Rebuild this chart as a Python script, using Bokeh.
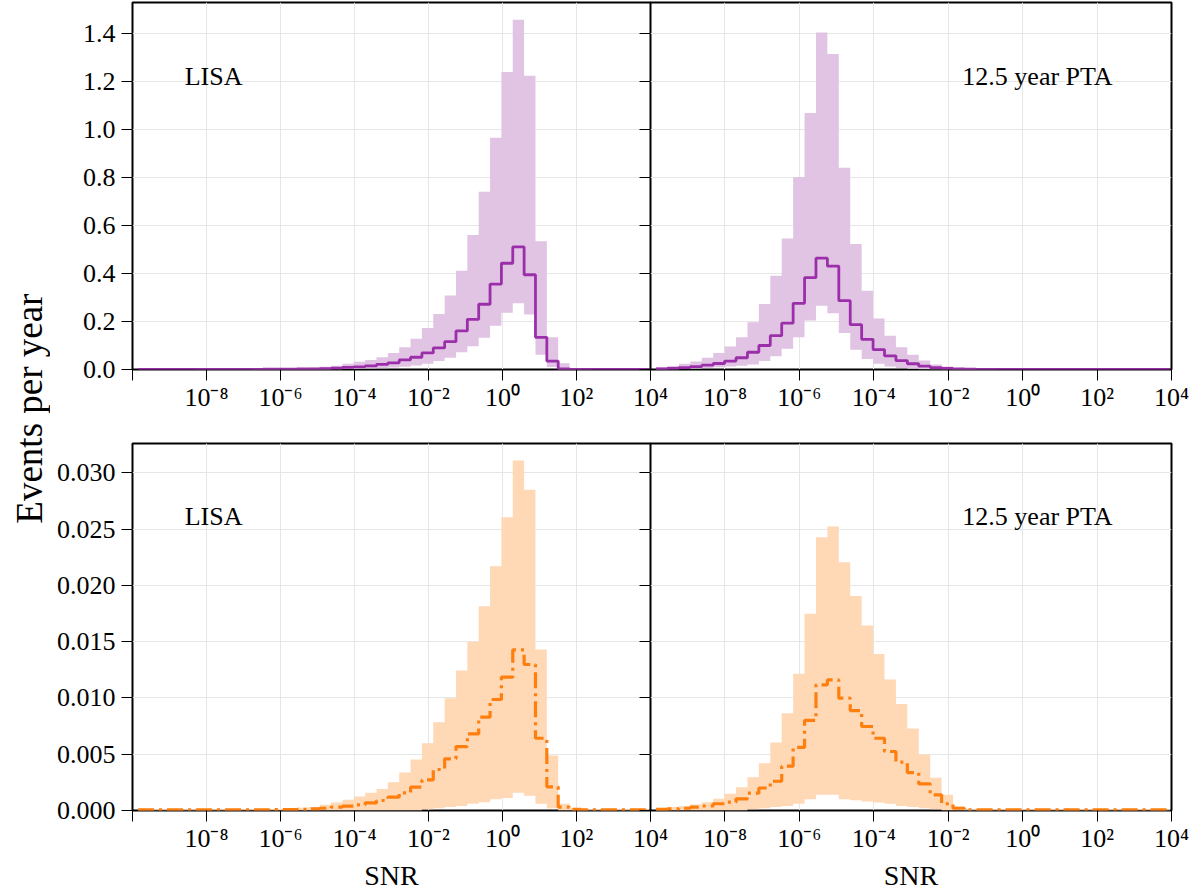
import numpy as np
from math import pi
from bokeh.plotting import figure
from bokeh.layouts import row, column
from bokeh.models import (Range1d, FixedTicker, CustomJSTickFormatter, NumeralTickFormatter,
                          LinearAxis, Label)
from bokeh.core.properties import value
from bokeh.embed import file_html
from bokeh.resources import INLINE

# ---- SNR bins (log-spaced), 45 bins ----
log_edges = np.linspace(-9.85, 3.96, 46)
snr_edges = 10.0 ** log_edges

# ---- GW-driven population (top row): median, 5th and 95th percentile per bin ----
lisa_top_med = [0.0001, 0.0001, 0.0001, 0.0002, 0.0002, 0.0003, 0.0003, 0.0004, 0.0005, 0.0006,
                0.0008, 0.0010, 0.0013, 0.0017, 0.0022,
                0.003, 0.004, 0.006, 0.009, 0.011, 0.015, 0.021, 0.028, 0.040, 0.051,
                0.069, 0.090, 0.116, 0.161, 0.209, 0.272, 0.356, 0.443, 0.511, 0.395,
                0.134, 0.035, 0.003, 0.0005, 0.0001, 0.0001, 0.0001, 0.0, 0.0, 0.0]
lisa_top_lo = [0.0] * 15 + \
              [0.0, 0.0005, 0.001, 0.002, 0.003, 0.004, 0.005, 0.008, 0.011, 0.017,
               0.024, 0.035, 0.049, 0.072, 0.097, 0.132, 0.182, 0.237, 0.276, 0.229,
               0.061, 0.010] + [0.0] * 8
lisa_top_hi = [0.0002, 0.0003, 0.0003, 0.0004, 0.0005, 0.0006, 0.0008, 0.0010, 0.0012, 0.0015,
               0.0019, 0.0024, 0.0030, 0.0038, 0.0050,
               0.007, 0.011, 0.016, 0.024, 0.032, 0.040, 0.051, 0.069, 0.093, 0.128,
               0.173, 0.231, 0.308, 0.412, 0.561, 0.741, 0.966, 1.240, 1.458, 1.225,
               0.535, 0.134, 0.026, 0.004, 0.001, 0.0005, 0.0003, 0.0002, 0.0001, 0.0001]

pta_top_med = [0.003, 0.005, 0.008, 0.012, 0.018, 0.025, 0.035, 0.049, 0.072, 0.100,
               0.141, 0.193, 0.276, 0.383, 0.464,
               0.431, 0.287, 0.187, 0.126, 0.083, 0.057, 0.037, 0.024, 0.014, 0.008,
               0.005, 0.002, 0.001, 0.0005, 0.0003, 0.0002, 0.0001, 0.0001, 0.0001, 0.0001] + [0.0] * 10
pta_top_lo = [0.0, 0.001, 0.002, 0.004, 0.006, 0.009, 0.012, 0.016, 0.021, 0.035,
              0.055, 0.086, 0.134, 0.204, 0.266,
              0.234, 0.152, 0.082, 0.044, 0.024, 0.012, 0.006, 0.003, 0.001, 0.0] + [0.0] * 20
pta_top_hi = [0.010, 0.015, 0.024, 0.033, 0.049, 0.069, 0.096, 0.134, 0.197, 0.273,
              0.391, 0.546, 0.802, 1.069, 1.405,
              1.315, 0.841, 0.523, 0.328, 0.213, 0.141, 0.093, 0.061, 0.037, 0.021,
              0.012, 0.006, 0.003, 0.0015, 0.0008, 0.0005, 0.0003, 0.0002, 0.0002, 0.0001] + [0.0001] * 10

# ---- second population (bottom row) ----
lisa_bot_med = [0.00005] * 11 + [0.00006, 0.00007, 0.00009, 0.0001,
                0.00015, 0.0002, 0.0003, 0.00038, 0.0005, 0.00068, 0.00089, 0.00118, 0.00157, 0.00207,
                0.00272, 0.00364, 0.00459, 0.00568, 0.00680, 0.00829, 0.00986, 0.01184, 0.01427, 0.01297,
                0.00642, 0.00210, 0.00030, 0.00010] + [0.00005] * 6
lisa_bot_lo = [0.0] * 25 + \
              [0.0001, 0.0002, 0.0003, 0.0004, 0.0006, 0.00074, 0.0010, 0.0011, 0.00157, 0.0013,
               0.0006, 0.0002] + [0.0] * 8
lisa_bot_hi = [0.0001] * 11 + [0.00012, 0.00015, 0.0002, 0.00025,
               0.0003, 0.0005, 0.0007, 0.00095, 0.00124, 0.00157, 0.00192, 0.00252, 0.00337, 0.00453,
               0.00598, 0.00784, 0.00998, 0.01243, 0.01500, 0.01815, 0.02170, 0.02605, 0.03110, 0.02850,
               0.01430, 0.00488, 0.00060, 0.00020] + [0.0001] * 6

pta_bot_med = [0.0001, 0.00015, 0.0002, 0.0003, 0.0004, 0.0006, 0.00074, 0.00104, 0.00154, 0.0020,
               0.0026, 0.00394, 0.0056, 0.0080, 0.01116,
               0.0116, 0.00998, 0.00888, 0.00746, 0.00642, 0.00524, 0.00429, 0.00337, 0.00237, 0.00139,
               0.0006, 0.0002] + [0.00005] * 18
pta_bot_lo = [0.0] * 8 + [0.0001, 0.0002, 0.0003, 0.0004, 0.0006, 0.0010, 0.0014,
              0.0014, 0.0010, 0.0009, 0.0008, 0.0007, 0.0006, 0.0004, 0.0003, 0.0002, 0.0001] + [0.0] * 20
pta_bot_hi = [0.0002, 0.0003, 0.0004, 0.00053, 0.00074, 0.00104, 0.00148, 0.00207, 0.00296, 0.0042,
              0.00604, 0.00864, 0.01214, 0.01747, 0.02427,
              0.02522, 0.02205, 0.01906, 0.01643, 0.01391, 0.01163, 0.00947, 0.00728, 0.00497, 0.0029,
              0.00139, 0.00036] + [0.0001] * 18

# ---- axis ticks ----
x_ticks = [1e-10, 1e-8, 1e-6, 1e-4, 1e-2, 1e0, 1e2, 1e4]
y_ticks_top = [0.0, 0.2, 0.4, 0.6, 0.8, 1.0, 1.2, 1.4]
y_ticks_bot = [0.0, 0.005, 0.010, 0.015, 0.020, 0.025, 0.030]
y_max_top = 1.53
y_max_bot = 0.0326

PURPLE_LINE = "#9b2fa9"
PURPLE_FILL = "#e1c4e4"
ORANGE_LINE = "#ff7f0e"
ORANGE_FILL = "#ffd8b6"
SERIF = "Liberation Serif"
TICK_FONT = "26px"

pow10_fmt = """
const sup = {"-": "\\u207B", "0": "\\u2070", "1": "\\u00B9", "2": "\\u00B2", "3": "\\u00B3",
             "4": "\\u2074", "5": "\\u2075", "6": "\\u2076", "7": "\\u2077", "8": "\\u2078", "9": "\\u2079"};
const e = Math.round(Math.log10(tick));
if (e <= -10) { return ""; }
return "10" + String(e).split("").map(c => sup[c]).join("");
"""


def make_panel(med, lo, hi, line_color, fill_color, dash, y_ticks, y_fmt, y_max, label,
               label_x, label_y, left_panel, bottom_row):
    p = figure(x_axis_type="log", x_range=Range1d(1e-10, 1e4), y_range=Range1d(0, y_max),
               frame_width=518 if left_panel else 521, frame_height=367,
               min_border_left=82 if left_panel else 0,
               min_border_right=28 if left_panel else 30,
               min_border_top=2,
               min_border_bottom=85 if bottom_row else 72,
               y_axis_location="left" if left_panel else None,
               title=None, output_backend="svg", toolbar_location=None)
    p.border_fill_color = "white" if left_panel else None
    p.background_fill_color = "white"
    p.outline_line_color = "black"
    p.outline_line_width = 2
    p.outline_line_alpha = 1.0

    # x axis
    xa = p.xaxis[0]
    xa.ticker = FixedTicker(ticks=x_ticks, minor_ticks=[])
    xa.formatter = CustomJSTickFormatter(code=pow10_fmt)
    xa.axis_line_color = None
    xa.major_tick_out = 11
    xa.major_tick_in = 0
    xa.major_tick_line_color = "black"
    xa.major_label_standoff = 2
    xa.major_label_text_font = SERIF
    xa.major_label_text_font_size = TICK_FONT
    xa.major_label_text_color = "black"
    if bottom_row:
        xa.axis_label = "SNR"
        xa.axis_label_text_font = SERIF
        xa.axis_label_text_font_size = "28px"
        xa.axis_label_text_font_style = "normal"
        xa.axis_label_text_color = "black"
        xa.axis_label_standoff = 4

    y_ticker = FixedTicker(ticks=y_ticks, minor_ticks=[])
    if left_panel:
        ya = p.yaxis[0]
        ya.ticker = y_ticker
        ya.formatter = NumeralTickFormatter(format=y_fmt)
        ya.axis_line_color = None
        ya.major_tick_out = 11
        ya.major_tick_in = 0
        ya.major_tick_line_color = "black"
        ya.major_label_standoff = 6
        ya.major_label_text_font = SERIF
        ya.major_label_text_font_size = TICK_FONT
        ya.major_label_text_color = "black"
        # ticks of the neighbouring panel's shared y axis, pointing into this frame
        ra = LinearAxis(ticker=y_ticker, formatter=CustomJSTickFormatter(code="return '';"),
                        axis_line_color=None, major_tick_in=11, major_tick_out=0,
                        major_tick_line_color="black", minor_tick_line_color=None,
                        major_label_standoff=0)
        p.add_layout(ra, "right")

    p.xgrid.ticker = FixedTicker(ticks=x_ticks, minor_ticks=[])
    p.ygrid.ticker = y_ticker
    p.grid.grid_line_color = "#e6e6e6"
    p.grid.grid_line_width = 1

    lo_s = list(lo) + [lo[-1]]
    hi_s = list(hi) + [hi[-1]]
    med_s = list(med) + [med[-1]]
    try:
        p.varea_step(x=snr_edges, y1=lo_s, y2=hi_s, step_mode="after",
                     fill_color=fill_color, fill_alpha=1.0)
    except AttributeError:
        p.quad(left=snr_edges[:-1], right=snr_edges[1:], bottom=lo, top=hi,
               fill_color=fill_color, line_color=fill_color, line_width=0.5)
    if dash is None:
        p.step(x=snr_edges, y=med_s, mode="after", line_color=line_color, line_width=2.8)
    else:
        p.step(x=snr_edges, y=med_s, mode="after", line_color=line_color, line_width=3.2,
               line_dash=dash)

    p.add_layout(Label(x=label_x, y=label_y, text=label, text_font=SERIF, text_font_size="26px",
                       text_color="black", text_align="left", text_baseline="alphabetic"))
    return p


p1 = make_panel(lisa_top_med, lisa_top_lo, lisa_top_hi, PURPLE_LINE, PURPLE_FILL, None,
                y_ticks_top, "0.0", y_max_top, "LISA", 10 ** -8.59, 1.221, True, False)
p2 = make_panel(pta_top_med, pta_top_lo, pta_top_hi, PURPLE_LINE, PURPLE_FILL, None,
                y_ticks_top, "0.0", y_max_top, "12.5 year PTA", 10 ** -1.62, 1.221, False, False)
p3 = make_panel(lisa_bot_med, lisa_bot_lo, lisa_bot_hi, ORANGE_LINE, ORANGE_FILL, "16 5 3 5",
                y_ticks_bot, "0.000", y_max_bot, "LISA", 10 ** -8.59, 0.02611, True, True)
p4 = make_panel(pta_bot_med, pta_bot_lo, pta_bot_hi, ORANGE_LINE, ORANGE_FILL, "16 5 3 5",
                y_ticks_bot, "0.000", y_max_bot, "12.5 year PTA", 10 ** -1.62, 0.02611, False, True)

# right-hand panels tuck under the left panels' label overflow strip
for rp in (p2, p4):
    try:
        rp.margin = (0, 0, 0, -28)
    except ValueError:
        rp.styles = {"margin-left": "-28px"}

# shared y-axis title
ylab = figure(width=50, height=895, x_range=Range1d(0, 1), y_range=Range1d(0, 1),
              x_axis_location=None, y_axis_location=None, min_border=0, title=None,
              output_backend="svg", toolbar_location=None)
ylab.outline_line_color = None
ylab.grid.visible = False
ylab.text(x=[0.58], y=[0.544], text=["Events per year"], angle=pi / 2,
          text_align="center", text_baseline="middle",
          text_font=value(SERIF), text_font_size="37px", text_color="black")

layout = row(ylab, column(row(p1, p2), row(p3, p4)))

open("out.html", "w").write(file_html(layout, INLINE))
